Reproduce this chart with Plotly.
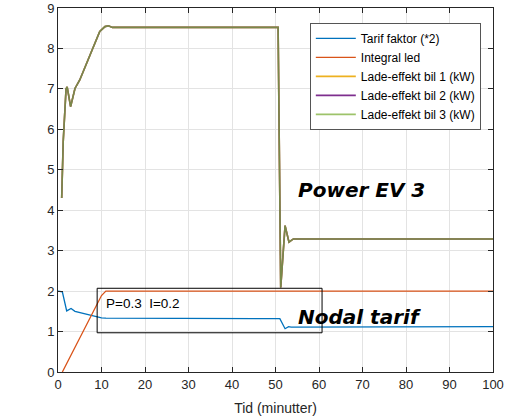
import plotly.graph_objects as go

# ---- data ----
t_tarif = [0, 1.0, 2.0, 3.0, 3.9, 5.0, 6.0, 7.0, 8.0, 9.0, 10.0, 11.0, 50.6, 51.0, 52.2, 53.0, 53.6, 100]
tarif = [2.0, 1.98, 1.51, 1.57, 1.50, 1.47, 1.45, 1.43, 1.39, 1.36, 1.34, 1.33, 1.33, 1.32, 1.07, 1.12, 1.11, 1.12]

t_integral = [1.0, 10.0, 11.0, 100]
integral = [0.0, 1.89, 2.0, 2.0]

t_power = [0.85, 1.2, 1.85, 2.1, 2.9, 3.9, 5.0, 9.6, 10.8, 11.6, 12.5, 50.6, 51.2, 52.2, 53.1, 54.1, 100]
power_bil1 = [4.3, 5.7, 7.0, 7.05, 6.56, 7.01, 7.22, 8.42, 8.54, 8.56, 8.52, 8.52, 2.09, 3.62, 3.21, 3.29, 3.29]
power_bil2 = [4.3, 5.7, 7.0, 7.05, 6.56, 7.01, 7.22, 8.42, 8.54, 8.56, 8.52, 8.52, 2.09, 3.62, 3.21, 3.29, 3.29]
power_bil3 = [4.3, 5.7, 7.0, 7.05, 6.56, 7.01, 7.22, 8.42, 8.54, 8.56, 8.52, 8.52, 2.09, 3.62, 3.21, 3.29, 3.29]

names = ["Tarif faktor (*2)", "Integral led", "Lade-effekt bil 1 (kW)",
         "Lade-effekt bil 2 (kW)", "Lade-effekt bil 3 (kW)"]
x_ticks = [0, 10, 20, 30, 40, 50, 60, 70, 80, 90, 100]
y_ticks = [0, 1, 2, 3, 4, 5, 6, 7, 8, 9]

# ---- styling ----
AX = "#262626"
GRID = "#e3e3e3"
FONT = "Liberation Sans, Arial, Helvetica, sans-serif"

fig = go.Figure()
fig.add_trace(go.Scatter(x=t_tarif, y=tarif, mode="lines", name=names[0],
                         line=dict(color="#0072BD", width=1.3)))
fig.add_trace(go.Scatter(x=t_integral, y=integral, mode="lines", name=names[1],
                         line=dict(color="#D95319", width=1.3)))
fig.add_trace(go.Scatter(x=t_power, y=power_bil1, mode="lines", name=names[2],
                         line=dict(color="#EDB120", width=1.6)))
fig.add_trace(go.Scatter(x=t_power, y=power_bil2, mode="lines", name=names[3],
                         line=dict(color="#7E2F8E", width=1.6)))
fig.add_trace(go.Scatter(x=t_power, y=power_bil3, mode="lines", name=names[4],
                         line=dict(color="rgba(119,172,48,0.72)", width=1.6)))

# annotation box + texts
fig.add_shape(type="rect", x0=9.0, x1=60.7, y0=0.97, y1=2.07, xref="x", yref="y",
              line=dict(color="black", width=1), fillcolor="rgba(0,0,0,0)")
fig.add_annotation(x=10.5, y=1.70, text="P=0.3  I=0.2", showarrow=False,
                   xanchor="left", yanchor="middle",
                   font=dict(family=FONT, size=13.5, color="black"))
fig.add_annotation(x=54.8, y=4.49, text="Power EV 3", showarrow=False,
                   xanchor="left", yanchor="middle",
                   font=dict(family="DejaVu Sans", size=20, color="black",
                             weight="bold", style="italic"))
fig.add_annotation(x=54.8, y=1.36, text="Nodal tarif", showarrow=False,
                   xanchor="left", yanchor="middle",
                   font=dict(family="DejaVu Sans", size=20, color="black",
                             weight="bold", style="italic"))

axis_common = dict(showline=True, linecolor=AX, linewidth=1, mirror="ticks",
                   ticks="inside", ticklen=5, tickcolor=AX, tickwidth=1,
                   showgrid=True, gridcolor=GRID, gridwidth=1, zeroline=False,
                   automargin=False,
                   tickfont=dict(family=FONT, size=13, color=AX))

fig.update_xaxes(range=[0, 100], tickvals=x_ticks,
                 title=dict(text="Tid (minutter)", font=dict(family=FONT, size=14, color=AX),
                            standoff=12),
                 **axis_common)
fig.update_yaxes(range=[0, 9], tickvals=y_ticks, **axis_common)

fig.update_layout(
    width=514, height=418,
    margin=dict(l=58, r=21, t=8, b=46, autoexpand=False),
    paper_bgcolor="white", plot_bgcolor="white",
    font=dict(family=FONT, color=AX),
    showlegend=True,
    legend=dict(x=0.972, y=0.959, xanchor="right", yanchor="top",
                bgcolor="white", bordercolor="#555555", borderwidth=1,
                font=dict(family=FONT, size=12, color="black"),
                itemwidth=40, tracegroupgap=0),
)

fig.write_html("out.html", config={"displayModeBar": False},
               post_script="document.body.style.margin='0';")
